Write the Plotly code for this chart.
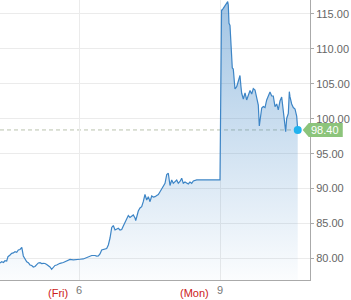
import plotly.graph_objects as go

# time in hours relative to Friday 6 00:00 (weekend removed: Monday 9 = 24)
hours = [-13.45, -13.16, -12.85, -12.60, -12.31, -12.09, -11.74, -11.46, -11.18, -10.89,
         -10.60, -10.33, -10.04, -9.74, -9.48, -9.19, -8.90, -8.63, -8.34, -8.05,
         -7.78, -7.49, -7.20, -6.93, -6.64, -6.35, -6.08, -5.79, -5.50, -5.23,
         -4.94, -4.66, -4.37, -4.09, -3.80, -3.52, -3.23, -2.67, -2.09, -1.53,
         -0.97, -0.39, 0.17, 0.73, 1.31, 1.58, 2.16, 2.72, 3.01, 3.29,
         3.57, 3.86, 4.14, 4.43, 4.71, 4.99, 5.28, 5.57, 5.84, 6.13,
         6.42, 6.69, 6.98, 7.27, 7.54, 7.83, 8.12, 8.39, 8.68, 8.97,
         9.24, 9.53, 9.65, 9.82, 10.09, 10.38, 10.67, 10.94, 11.23, 11.52,
         11.80, 12.09, 12.37, 12.65, 12.94, 13.23, 13.50, 13.79, 14.08, 14.35,
         14.64, 14.93, 15.20, 15.49, 15.78, 16.05, 16.34, 16.63, 16.90, 17.19,
         17.48, 17.75, 18.04, 18.33, 18.60, 18.89, 19.18, 19.46, 19.74, 20.03,
         21.45, 22.30, 23.15, 24.00,
         24.26, 24.39, 24.56, 24.85, 24.97, 25.14, 25.31, 25.41, 25.53, 25.70,
         25.87, 25.99, 26.09, 26.26, 26.43, 26.55, 26.84, 27.11, 27.29, 27.40,
         27.57, 27.69, 27.97, 28.26, 28.54, 28.82, 29.11, 29.40, 29.67, 29.96,
         30.25, 30.52, 30.69, 30.81, 31.10, 31.37, 31.66, 31.95, 32.22, 32.51,
         32.80, 33.07, 33.36, 33.65, 33.92, 34.21, 34.50, 34.77, 35.06, 35.18,
         35.35, 35.63, 35.80, 35.91, 36.20, 36.48, 36.77, 37.06, 37.23]

prices = [79.36, 79.54, 79.43, 79.69, 79.64, 80.26, 80.50, 80.74, 80.79, 80.97,
          80.89, 81.22, 81.29, 81.60, 80.36, 79.86, 79.54, 79.40, 79.07, 79.00,
          78.78, 78.85, 79.14, 79.36, 79.40, 79.28, 79.31, 79.28, 79.14, 79.00,
          78.78, 78.45, 78.74, 79.00, 79.07, 79.21, 79.31, 79.43, 79.61, 79.86,
          79.81, 79.89, 79.89, 79.93, 80.10, 80.26, 80.43, 80.43, 80.33, 80.36,
          80.64, 81.22, 81.29, 81.46, 81.43, 81.93, 82.93, 84.44, 84.72, 84.08,
          84.15, 84.32, 84.08, 84.15, 84.65, 85.15, 85.65, 86.15, 85.87, 86.01,
          86.23, 85.80, 85.44, 85.94, 86.80, 87.23, 87.41, 88.13, 89.16, 88.37,
          88.85, 88.13, 88.95, 88.80, 88.85, 89.02, 89.16, 89.56, 90.05, 90.31,
          90.76, 92.02, 92.20, 90.45, 91.24, 90.76, 91.02, 91.24, 90.76, 91.02,
          91.48, 90.76, 90.95, 90.74, 90.66, 90.95, 90.76, 91.09, 91.14, 91.24,
          91.24, 91.24, 91.24, 91.24,
          115.57, 115.57, 115.81, 116.21, 116.29, 116.64, 116.76, 116.29, 113.67, 113.35,
          110.13, 108.70, 107.27, 107.13, 104.83, 104.26, 104.59, 105.34, 105.69, 106.19,
          104.59, 103.65, 102.83, 103.69, 102.69, 103.40, 104.05, 103.55, 104.33, 104.12,
          102.69, 101.97, 98.97, 99.61, 101.54, 101.76, 101.61, 102.69, 103.19, 103.83,
          103.26, 103.26, 101.73, 102.12, 101.26, 102.54, 103.12, 100.83, 98.97, 98.15,
          100.04, 100.78, 103.88, 103.16, 102.12, 101.61, 101.40, 100.33, 98.40]

x_tick_vals = [0, 24]
x_tick_text = ["6", "9"]
day_names = ["(Fri)", "(Mon)"]
y_tick_vals = [80, 85, 90, 95, 100, 105, 110, 115]
y_tick_text = ["80.00", "85.00", "90.00", "95.00", "100.00", "105.00", "110.00", "115.00"]
last_price = prices[-1]
last_label = "98.40"

x_range = [-13.45, 39.32]
y_range = [76.92, 117.0]

LINE = "#3d85c6"
FONT = "Liberation Sans, Arial, sans-serif"

fig = go.Figure()
fig.add_trace(go.Scatter(
    x=hours, y=prices, mode="lines",
    line=dict(color=LINE, width=1.2),
    fill="tozeroy",
    fillgradient=dict(type="vertical", start=y_range[0], stop=y_range[1],
                      colorscale=[[0, "rgba(61,133,198,0.02)"], [1, "rgba(61,133,198,0.48)"]]),
    hoverinfo="skip", showlegend=False,
))
fig.add_trace(go.Scatter(
    x=[hours[-1]], y=[last_price], mode="markers",
    marker=dict(color="#22b2ee", size=8),
    hoverinfo="skip", showlegend=False, cliponaxis=False,
))

# dashed last-price line
fig.add_shape(type="line", xref="x", yref="y", x0=x_range[0], x1=hours[-1],
              y0=last_price, y1=last_price,
              line=dict(color="#b9c2ad", width=1, dash="4px,3px"), layer="below")

# price label (arrow box)
ax = (hours[-1] - x_range[0]) / (x_range[1] - x_range[0])
ay = (last_price - y_range[0]) / (y_range[1] - y_range[0])
fig.add_shape(type="path", xref="paper", yref="paper",
              xsizemode="pixel", ysizemode="pixel", xanchor=ax, yanchor=ay,
              path="M 5,0 L 11,7 L 45,7 L 45,-7 L 11,-7 Z",
              fillcolor="#8cc47b", line=dict(width=0), layer="above")
fig.add_annotation(xref="paper", yref="paper", x=ax, y=ay, xshift=27, yshift=0,
                   xanchor="center", yanchor="middle",
                   text=last_label, showarrow=False,
                   font=dict(color="white", size=11, family=FONT))

for xv, nm in zip(x_tick_vals, day_names):
    fig.add_annotation(xref="x", yref="paper", x=xv, y=0, xanchor="right", yanchor="top",
                       xshift=-9, yshift=-5, text=nm, showarrow=False,
                       font=dict(color="#cc2020", size=11, family=FONT))

fig.update_layout(
    width=351, height=300,
    margin=dict(l=0, r=41, t=0, b=20),
    paper_bgcolor="white", plot_bgcolor="white",
    font=dict(family=FONT, size=11, color="#666"),
    xaxis=dict(range=x_range, tickvals=x_tick_vals, ticktext=x_tick_text,
               showgrid=True, gridcolor="#ebebeb", gridwidth=1,
               showline=True, linecolor="#aaaaaa", linewidth=1,
               ticks="", zeroline=False, tickfont=dict(color="#777", size=11)),
    yaxis=dict(range=y_range, side="right", tickvals=y_tick_vals, ticktext=y_tick_text,
               showgrid=True, gridcolor="#ebebeb", gridwidth=1,
               showline=True, linecolor="#aaaaaa", linewidth=1,
               ticks="outside", ticklen=3, tickcolor="#aaaaaa",
               zeroline=False, tickfont=dict(color="#666", size=11)),
)

fig.write_html("out.html")
